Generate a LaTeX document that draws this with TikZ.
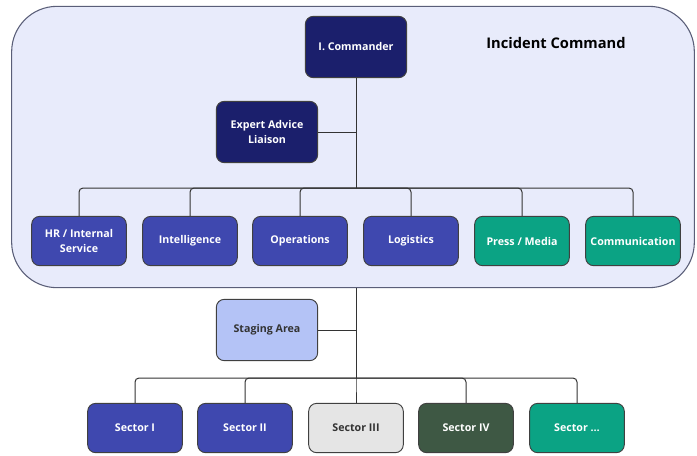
\documentclass[tikz,border=0pt]{standalone}
\usepackage{fontspec}
\setmainfont{Open Sans}
\definecolor{navy}{HTML}{1B1F6C}
\definecolor{unitblue}{HTML}{3F48AF}
\definecolor{unitgreen}{HTML}{0BA384}
\definecolor{stagingblue}{HTML}{B4C3F6}
\definecolor{lightgrey}{HTML}{E5E5E5}
\definecolor{darkgreen}{HTML}{3E5844}
\definecolor{panel}{HTML}{E8EBFB}
\definecolor{panelline}{HTML}{5A5E78}
\tikzset{
  unit/.style={draw=black!75, line width=0.7pt, rounded corners=6pt, text=white,
    font=\fontsize{8}{11}\selectfont\bfseries, align=center,
    minimum width=71pt, minimum height=37pt, inner sep=2pt},
  head/.style={unit, fill=navy, minimum width=76pt, minimum height=46pt},
  link/.style={draw=black!80, line width=0.75pt, rounded corners=3pt}
}
\begin{document}
\begin{tikzpicture}[x=0.75pt, y=-0.75pt]
    \useasboundingbox (0,0) rectangle (697,455);
    \node[draw=panelline, fill=panel, line width=0.8pt, rounded corners=34pt,
          minimum width=512pt, minimum height=211pt] (ic) at (353,147) {};
    \node[font=\fontsize{11}{13}\selectfont\bfseries] (title) at (556,43) {Incident Command};

    \node[head] (cmd) at (356,47) {I. Commander};
    \node[head] (advice) at (267,132) {Expert Advice\\Liaison};

    \node[unit, fill=unitblue] (hr) at (79,241) {HR / Internal\\Service};
    \node[unit, fill=unitblue] (intel) at (190,241) {Intelligence};
    \node[unit, fill=unitblue] (ops) at (300,241) {Operations};
    \node[unit, fill=unitblue] (log) at (411,241) {Logistics};
    \node[unit, fill=unitgreen] (press) at (522,241) {Press / Media};
    \node[unit, fill=unitgreen] (comm) at (633,241) {Communication};

    \node[unit, fill=stagingblue, text=black!80, minimum width=76pt, minimum height=46pt] (staging) at (267,330) {Staging Area};

    \node[unit, fill=unitblue] (s1) at (135,428) {Sector I};
    \node[unit, fill=unitblue] (s2) at (245,428) {Sector II};
    \node[unit, fill=lightgrey, text=black!80] (s3) at (356,428) {Sector III};
    \node[unit, fill=darkgreen] (s4) at (466,428) {Sector IV};
    \node[unit, fill=unitgreen] (s5) at (577,428) {Sector \dots};

    % upper tree
    \coordinate (j1) at (356,188);
    \draw[link] (cmd.south) -- (j1);
    \draw[link] (advice.east) -- (advice.east -| cmd.south);
    \foreach \n in {hr,intel,ops,log,press,comm}
        \draw[link] (j1) -| (\n.north);

    % lower tree
    \coordinate (j2) at (356,378);
    \draw[link] (cmd.south |- ic.south) -- (j2);
    \draw[link] (staging.east) -- (staging.east -| j2);
    \foreach \n in {s1,s2,s3,s4,s5}
        \draw[link] (j2) -| (\n.north);
\end{tikzpicture}
\end{document}
